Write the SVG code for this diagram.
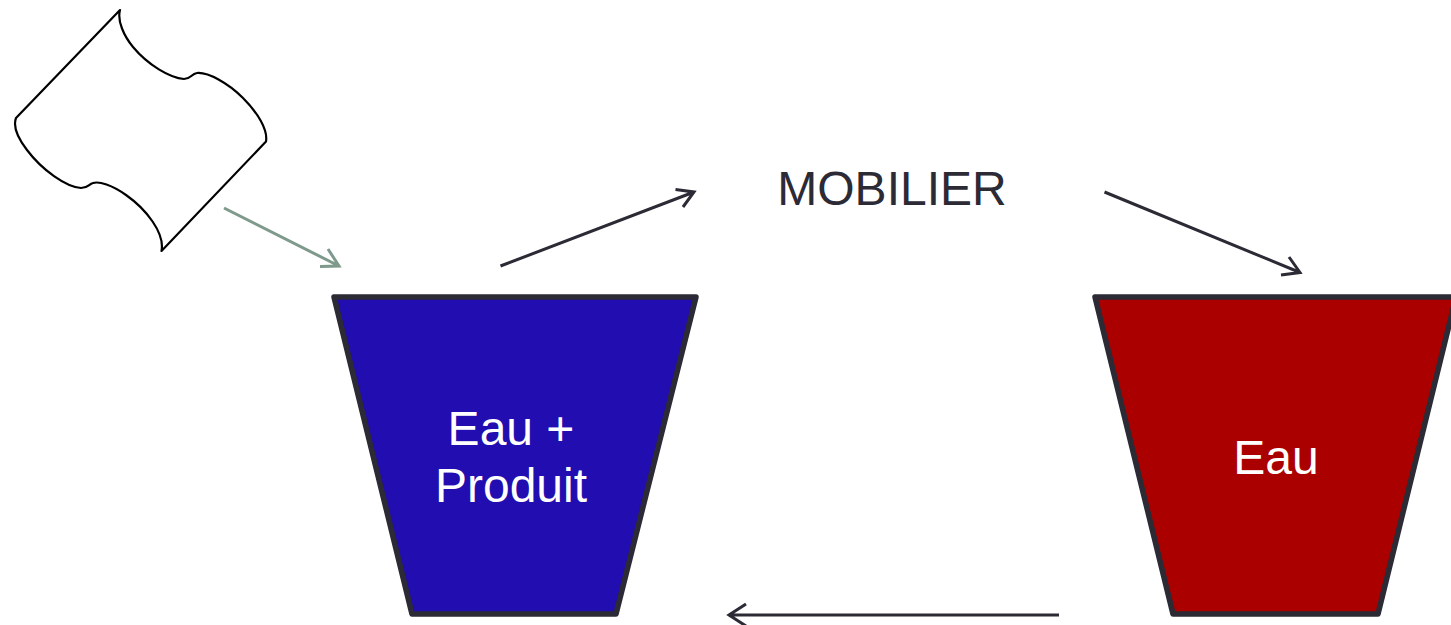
<svg xmlns="http://www.w3.org/2000/svg" width="1451" height="625" viewBox="0 0 1451 625">
<style>
.bucket{stroke:#2b2a35;stroke-width:5.5;stroke-linejoin:round}
.lbl{font-family:"Liberation Sans",Arial,sans-serif;font-size:48px;text-anchor:middle;fill:#fff}
.conn{fill:none;stroke:#2b2a35;stroke-width:3;stroke-linecap:butt;stroke-linejoin:miter}
.green{stroke:#7f9a8c}
</style>
<rect width="1451" height="625" fill="#fff"/>
<g id="wave-shape">
<path d="M120 10 L16 118 C13 126 17 137 27 150 C42 170 66 187 81 188 C88 188 89 184 93 183 C99 181 112 185 126 195 C146 209 165 233 161.500 251 L266 141.500 C268 130 258 113 243 98 C228 83 208 72 197 73 C191 74 191 79 184 79 C170 78 148 65 133 47 C124 36 117 21 120 10 Z" fill="#fff" stroke="#000" stroke-width="2.200" stroke-linejoin="round"/>
</g>
<g id="bucket-product">
<polygon class="bucket" points="334,297 696,297 616,614 412,614" fill="#210db0"/>
<text class="lbl" x="511" y="445">Eau +</text>
<text class="lbl" x="511" y="502">Produit</text>
</g>
<g id="bucket-water">
<polygon class="bucket" points="1095,297 1456,297 1378,614 1173,614" fill="#ab0000"/>
<text class="lbl" x="1276" y="474">Eau</text>
</g>
<g id="mobilier">
<text x="892" y="205" font-family="'Liberation Sans',Arial,sans-serif" font-size="48" text-anchor="middle" fill="#2b2a35">MOBILIER</text>
</g>
<g id="connectors">
<path class="conn green" d="M224 208 L339 266 M328 249 L339 266 L320 266.500"/>
<path class="conn" d="M500.500 266 L694 192 M675.500 189.500 L694 192 L683 207"/>
<path class="conn" d="M1104.500 192 L1300 272.500 M1289 257 L1300 272.500 L1281 275"/>
<path class="conn" d="M1059 615 L729 615 M746 604 L729 615 L746 626"/>
</g>
</svg>
